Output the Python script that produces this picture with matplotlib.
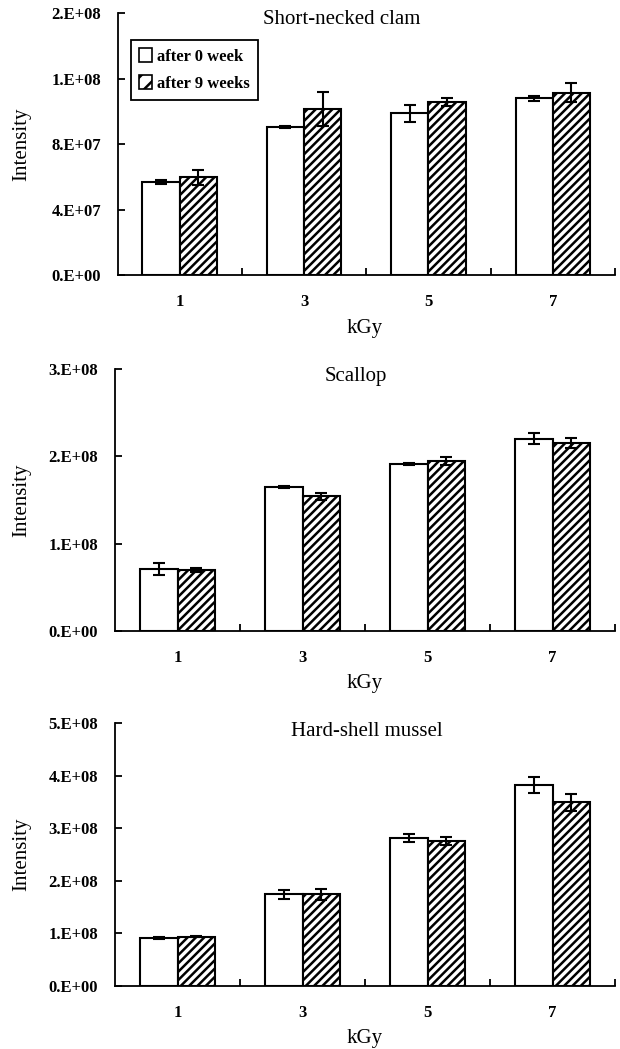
import numpy as np
import matplotlib
matplotlib.use("Agg")
import matplotlib.pyplot as plt
from matplotlib.patches import Patch
from matplotlib.ticker import FixedLocator, FuncFormatter

plt.rcParams['font.family'] = ['Liberation Serif', 'DejaVu Serif']
plt.rcParams['hatch.linewidth'] = 1.8

doses = ['1', '3', '5', '7']
series_names = ['after 0 week', 'after 9 weeks']

titles = ['Short-necked clam', 'Scallop', 'Hard-shell mussel']

clam_0 = [5.69e7, 9.03e7, 9.89e7, 1.080e8]
clam_0_err = [0.1e7, 0.05e7, 0.52e7, 0.17e7]
clam_9 = [5.97e7, 1.015e8, 1.060e8, 1.115e8]
clam_9_err = [0.45e7, 1.05e7, 0.24e7, 0.6e7]

scallop_0 = [0.712e8, 1.649e8, 1.910e8, 2.204e8]
scallop_0_err = [0.069e8, 0.015e8, 0.01e8, 0.065e8]
scallop_9 = [0.700e8, 1.542e8, 1.944e8, 2.155e8]
scallop_9_err = [0.025e8, 0.042e8, 0.046e8, 0.06e8]

mussel_0 = [0.909e8, 1.741e8, 2.815e8, 3.825e8]
mussel_0_err = [0.01e8, 0.09e8, 0.076e8, 0.16e8]
mussel_9 = [0.934e8, 1.741e8, 2.757e8, 3.494e8]
mussel_9_err = [0.005e8, 0.11e8, 0.083e8, 0.16e8]

yticks = [[0, 4e7, 8e7, 1.2e8, 1.6e8],
          [0, 1e8, 2e8, 3e8],
          [0, 1e8, 2e8, 3e8, 4e8, 5e8]]

panels = [(clam_0, clam_0_err, clam_9, clam_9_err),
          (scallop_0, scallop_0_err, scallop_9, scallop_9_err),
          (mussel_0, mussel_0_err, mussel_9, mussel_9_err)]

W, H = 620, 1049
fig = plt.figure(figsize=(W / 100, H / 100), dpi=100)

# axes boxes in pixels: left, top, right, bottom
boxes = [(117.6, 13.3, 615, 275),
         (115, 369.3, 615, 630.7),
         (115, 723.3, 615, 985.7)]
title_pos = [(342, 20), (356, 376), (367, 732)]

x = np.arange(1, len(doses) + 1)
bw = 0.30


def sci(v, pos):
    return '{:#.0E}'.format(v)


for i, (s0, e0, s9, e9) in enumerate(panels):
    l, t, r, b = boxes[i]
    ax = fig.add_axes([l / W, 1 - b / H, (r - l) / W, (b - t) / H])
    ek = dict(elinewidth=1.5, capthick=1.5, ecolor='black')
    ax.bar(x - bw / 2, s0, bw, yerr=e0, capsize=4, color='white',
           edgecolor='black', linewidth=1.5, error_kw=ek, zorder=2)
    ax.bar(x + bw / 2, s9, bw, yerr=e9, capsize=4, color='white',
           edgecolor='black', hatch='////', linewidth=1.5, error_kw=ek, zorder=2)

    ax.set_xlim(0.5, 4.5)
    ax.set_ylim(0, yticks[i][-1])
    ax.spines['top'].set_visible(False)
    ax.spines['right'].set_visible(False)
    ax.spines['left'].set_linewidth(1.3)
    ax.spines['bottom'].set_linewidth(1.3)

    ax.set_xticks(x)
    ax.set_xticklabels(doses)
    ax.xaxis.set_minor_locator(FixedLocator([1.5, 2.5, 3.5, 4.5]))
    ax.tick_params(axis='x', which='major', length=0, pad=14, labelsize=12)
    ax.tick_params(axis='x', which='minor', direction='in', length=5, width=1.3)
    ax.set_yticks(yticks[i])
    ax.yaxis.set_major_formatter(FuncFormatter(sci))
    ax.tick_params(axis='y', direction='in', length=5, width=1.3, pad=12,
                   labelsize=12)
    for lab in ax.get_xticklabels() + ax.get_yticklabels():
        lab.set_fontweight('bold')

    tx, ty = title_pos[i]
    fig.text(tx / W, 1 - ty / H, titles[i], ha='center', va='center',
             fontsize=15)
    fig.text(22 / W, 1 - (t + b) / 2 / H, 'Intensity', rotation=90,
             ha='center', va='center', fontsize=15)
    fig.text(365 / W, 1 - (b + 53) / H, 'kGy', ha='center', va='center',
             fontsize=15)

    if i == 0:
        handles = [Patch(facecolor='white', edgecolor='black', linewidth=1.2),
                   Patch(facecolor='white', edgecolor='black', hatch='//',
                         linewidth=1.2)]
        leg = ax.legend(handles, series_names, loc='upper left',
                        bbox_to_anchor=(0.027, 0.898), borderaxespad=0,
                        fancybox=False, edgecolor='black', framealpha=1,
                        handlelength=0.75, handleheight=0.9, handletextpad=0.3,
                        labelspacing=0.6, borderpad=0.5,
                        prop={'weight': 'bold', 'size': 12})
        leg.get_frame().set_linewidth(1.3)

fig.savefig('out.png', dpi=100)
